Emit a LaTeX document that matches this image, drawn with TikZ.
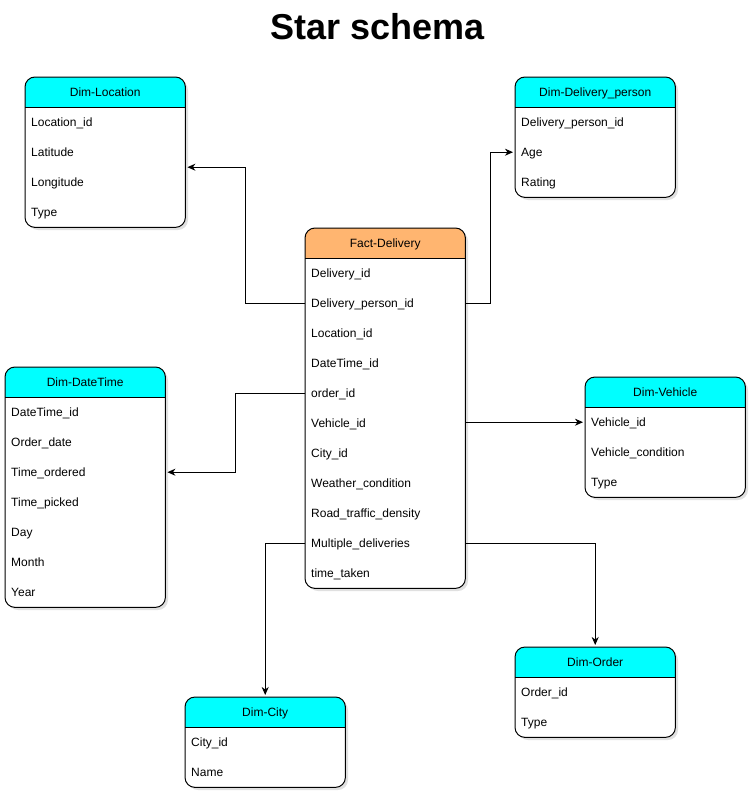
\documentclass[tikz,border=0pt]{standalone}
\usepackage{fontspec}
\setmainfont{Liberation Sans}
\usetikzlibrary{arrows.meta}
\definecolor{hdrcyan}{HTML}{00FFFF}
\definecolor{hdrorange}{HTML}{FFB570}
\tikzset{
  rowcell/.style={minimum width=160pt, minimum height=30pt, text width=148pt, inner xsep=6pt, inner ysep=0pt, text height=10pt, text depth=1pt, align=left, font=\fontsize{12pt}{14pt}\selectfont, anchor=north west},
  hdrcell/.style={minimum width=160pt, minimum height=30pt, inner sep=0pt, text height=10pt, text depth=1pt, align=center, font=\fontsize{12pt}{14pt}\selectfont, anchor=north west},
  bodycell/.style={minimum width=160pt, inner sep=0pt, anchor=north west},
  outline/.style={draw=black, line width=1pt, rounded corners=10pt},
  arr/.style={draw=black, line width=1pt, -{Stealth[length=8pt,width=7pt,inset=2.5pt]}, shorten >=2pt}
}
% #1 name, #2 x, #3 y, #4 colour, #5 title, #6 row count, #7 rows
\newcommand{\dbtab}[7]{%
  \fill[black, opacity=0.12, rounded corners=10pt] ({#2+3},{#3+3}) rectangle ({#2+163},{#3+30+30*#6+3});
  \node[bodycell, minimum height={30pt*#6}] (#1-b) at (#2,{#3+30}) {};
  \node[hdrcell] (#1-h) at (#2,#3) {};
  \fill[white, rounded corners=10pt] (#1-h.north west) rectangle (#1-b.south east);
  \begin{scope}
    \clip[rounded corners=10pt] (#1-h.north west) rectangle (#1-b.south east);
    \fill[#4] (#1-h.north west) rectangle (#1-h.south east);
  \end{scope}
  \node[hdrcell] at (#2,#3) {#5};
  \draw[line width=1pt] (#1-h.south west) -- (#1-h.south east);
  \draw[outline] (#1-h.north west) rectangle (#1-b.south east);
  \foreach \t [count=\i] in {#7} {
    \node[rowcell] (#1-\i) at (#2,{#3+30*\i}) {\t};
  }
}
\begin{document}
\begin{tikzpicture}[x=1pt, y=-1pt]
\useasboundingbox (0,0) rectangle (752,795);
\node[font=\fontsize{36pt}{40pt}\selectfont\bfseries] (title) at (378,27) {Star schema};

\dbtab{loc}{25}{77}{hdrcyan}{Dim-Location}{4}{Location\_id,Latitude,Longitude,Type}
\dbtab{dp}{515}{77}{hdrcyan}{Dim-Delivery\_person}{3}{Delivery\_person\_id,Age,Rating}
\dbtab{fact}{305}{228}{hdrorange}{Fact-Delivery}{11}{Delivery\_id,Delivery\_person\_id,Location\_id,DateTime\_id,order\_id,Vehicle\_id,City\_id,Weather\_condition,Road\_traffic\_density,Multiple\_deliveries,time\_taken}
\dbtab{dt}{5}{367}{hdrcyan}{Dim-DateTime}{7}{DateTime\_id,Order\_date,Time\_ordered,Time\_picked,Day,Month,Year}
\dbtab{veh}{585}{377}{hdrcyan}{Dim-Vehicle}{3}{Vehicle\_id,Vehicle\_condition,Type}
\dbtab{city}{185}{697}{hdrcyan}{Dim-City}{2}{City\_id,Name}
\dbtab{ord}{515}{647}{hdrcyan}{Dim-Order}{2}{Order\_id,Type}

\draw[arr] (fact-2.west) -- ++(-60,0) |- (loc-b.east);
\draw[arr] (fact-2.east) -- ++(25,0) |- (dp-2.west);
\draw[arr] (fact-5.west) -- ++(-70,0) |- (dt-3.east);
\draw[arr] (fact-6.east |- veh-1.west) -- (veh-1.west);
\draw[arr] (fact-10.west) -| (city-h.north);
\draw[arr] (fact-10.east) -| (ord-h.north);
\end{tikzpicture}
\end{document}
